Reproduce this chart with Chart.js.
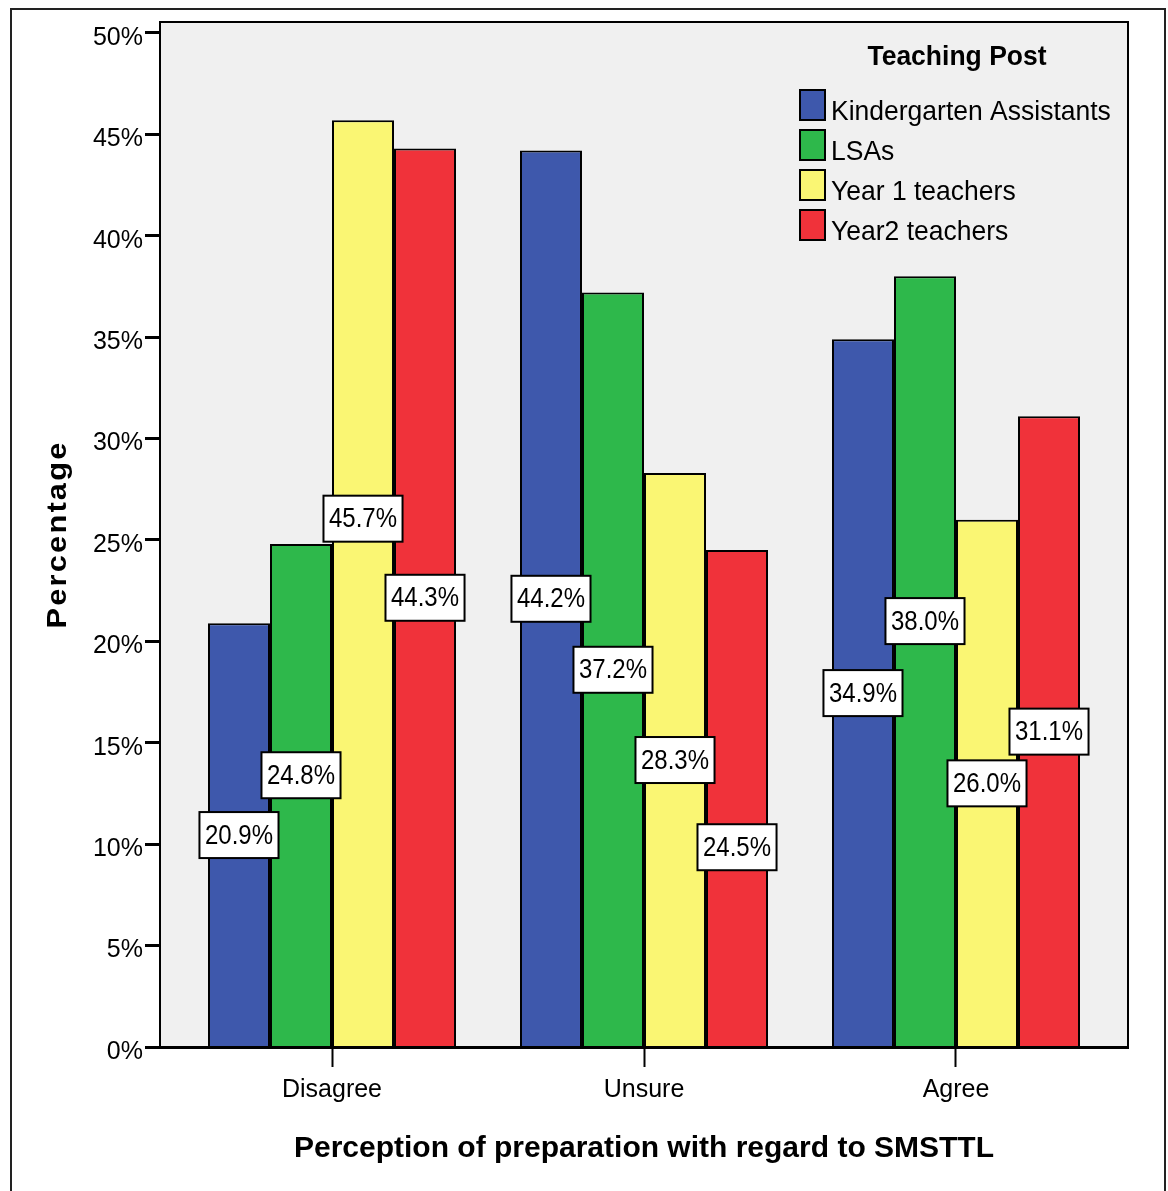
<!DOCTYPE html>
<html>
<head>
<meta charset="utf-8">
<script src="https://cdn.jsdelivr.net/npm/chart.js@4.4.1/dist/chart.umd.min.js"></script>
<style>
  html, body { margin: 0; padding: 0; background: #fff; }
</style>
</head>
<body>
<canvas id="perception" width="1168" height="1191"></canvas>
<script>
const categories = ['Disagree', 'Unsure', 'Agree'];
const posts = ['Kindergarten Assistants', 'LSAs', 'Year 1 teachers', 'Year2 teachers'];
const kindergartenAssistants = [20.9, 44.2, 34.9];
const lsas = [24.8, 37.2, 38.0];
const year1Teachers = [45.7, 28.3, 26.0];
const year2Teachers = [44.3, 24.5, 31.1];
const percentTicks = [0, 5, 10, 15, 20, 25, 30, 35, 40, 45, 50];

const postColors = ['#3e58ac', '#2eb84b', '#faf673', '#f0323a'];
// value labels sit half way up their bar; these move the ones that would collide (in % units)
const labelShift = [[0, 0, 0], [1.0, 0, 2.0], [3.2, 0, 0], [0, -2.4, 0]];
const FONT = '"Liberation Sans", Arial, Helvetica, sans-serif';

function stretchedText(ctx, text, x, y, stretch) {
    ctx.save();
    ctx.translate(x, y);
    ctx.scale(1, stretch);
    ctx.fillText(text, 0, 0);
    ctx.restore();
}

const frame = {
    id: 'frame',
    beforeDraw(chart) {
        const { ctx, chartArea: a } = chart;
        ctx.save();
        ctx.fillStyle = '#fff';
        ctx.fillRect(0, 0, chart.width, chart.height);
        ctx.strokeStyle = '#222';
        ctx.lineWidth = 2;
        ctx.strokeRect(11, 9, chart.width - 3 - 11, chart.height + 40);
        ctx.fillStyle = '#f0f0f0';
        ctx.fillRect(a.left, a.top, a.width, a.height);
        ctx.restore();
    },
    afterDatasetsDraw(chart) {
        const { ctx, chartArea: a } = chart;
        ctx.save();
        ctx.strokeStyle = '#000';
        ctx.lineWidth = 2;
        ctx.strokeRect(a.left, a.top, a.width, a.height);
        ctx.restore();
    }
};

const valueLabels = {
    id: 'valueLabels',
    afterDatasetsDraw(chart) {
        const { ctx, scales: { y } } = chart;
        ctx.save();
        ctx.font = `24px ${FONT}`;
        ctx.textAlign = 'center';
        ctx.textBaseline = 'middle';
        chart.data.datasets.forEach((ds, i) => {
            chart.getDatasetMeta(i).data.forEach((bar, j) => {
                const v = ds.data[j].y;
                const text = v.toFixed(1) + '%';
                const cy = y.getPixelForValue(v / 2 + labelShift[i][j]);
                const w = ctx.measureText(text).width + 11;
                const h = 46;
                ctx.fillStyle = '#fff';
                ctx.fillRect(bar.x - w / 2, cy - h / 2, w, h);
                ctx.strokeStyle = '#000';
                ctx.lineWidth = 2;
                ctx.strokeRect(bar.x - w / 2, cy - h / 2, w, h);
                ctx.fillStyle = '#000';
                stretchedText(ctx, text, bar.x, cy + 1, 1.15);
            });
        });
        ctx.restore();
    }
};

const postLegend = {
    id: 'postLegend',
    afterDraw(chart) {
        const { ctx, chartArea: a } = chart;
        const left = a.right - 328;
        ctx.save();
        ctx.fillStyle = '#000';
        ctx.textBaseline = 'alphabetic';
        ctx.textAlign = 'center';
        ctx.font = `bold 26.5px ${FONT}`;
        stretchedText(ctx, 'Teaching Post', a.right - 171, a.top + 43, 1.06);

        ctx.textAlign = 'left';
        ctx.font = `26.5px ${FONT}`;
        chart.data.datasets.forEach((ds, i) => {
            const top = a.top + 68 + i * 40;
            ctx.fillStyle = ds.backgroundColor;
            ctx.fillRect(left, top, 25, 30);
            ctx.strokeStyle = '#000';
            ctx.lineWidth = 2;
            ctx.strokeRect(left, top, 25, 30);
            ctx.fillStyle = '#000';
            stretchedText(ctx, ds.label, left + 31, top + 30, 1.06);
        });

        // y axis title, spaced out along its length
        ctx.translate(a.left - 102, (a.top + a.bottom) / 2);
        ctx.rotate(-Math.PI / 2);
        ctx.scale(1.1, 1);
        ctx.font = `bold 28px ${FONT}`;
        ctx.letterSpacing = '2px';
        ctx.textAlign = 'center';
        ctx.textBaseline = 'middle';
        ctx.fillText('Percentage', 0, 0);
        ctx.restore();
    }
};

new Chart(document.getElementById('perception'), {
    type: 'bar',
    data: {
        datasets: [kindergartenAssistants, lsas, year1Teachers, year2Teachers].map((vals, i) => ({
            label: posts[i],
            data: vals.map((v, j) => ({ x: j, y: v })),
            backgroundColor: postColors[i],
            borderColor: '#000',
            borderWidth: 2,
            categoryPercentage: 0.795,
            barPercentage: 1
        }))
    },
    options: {
        responsive: false,
        animation: false,
        devicePixelRatio: 1,
        layout: { padding: { top: 22, right: 40, left: 0, bottom: 0 } },
        plugins: {
            legend: { display: false },
            tooltip: { enabled: false }
        },
        scales: {
            x: {
                type: 'linear',
                min: -0.5513,
                max: 2.5513,
                offset: false,
                afterBuildTicks: s => { s.ticks = categories.map((c, i) => ({ value: i })); },
                afterFit: s => { s.height = 144; },
                grid: { display: true, offset: false, drawOnChartArea: false, tickLength: 20, tickWidth: 2, tickColor: '#000' },
                border: { display: true, color: '#000', width: 3 },
                ticks: {
                    callback: v => categories[v],
                    color: '#000',
                    font: { family: FONT, size: 25 },
                    padding: 8,
                    maxRotation: 0,
                    autoSkip: false
                },
                title: {
                    display: true,
                    text: 'Perception of preparation with regard to SMSTTL',
                    color: '#000',
                    font: { family: FONT, size: 30, weight: 'bold' },
                    padding: { top: 0, bottom: 24 }
                }
            },
            y: {
                min: 0,
                max: 50.54,
                afterBuildTicks: s => { s.ticks = percentTicks.map(v => ({ value: v })); },
                afterFit: s => { s.width = 160; },
                grid: { drawOnChartArea: false, tickLength: 15, tickWidth: 3, tickColor: '#000' },
                border: { display: true, color: '#000', width: 2 },
                ticks: {
                    callback: v => v + '%',
                    color: '#000',
                    font: { family: FONT, size: 25 },
                    padding: 2,
                    labelOffset: 5
                }
            }
        }
    },
    plugins: [frame, valueLabels, postLegend]
});
</script>
</body>
</html>
